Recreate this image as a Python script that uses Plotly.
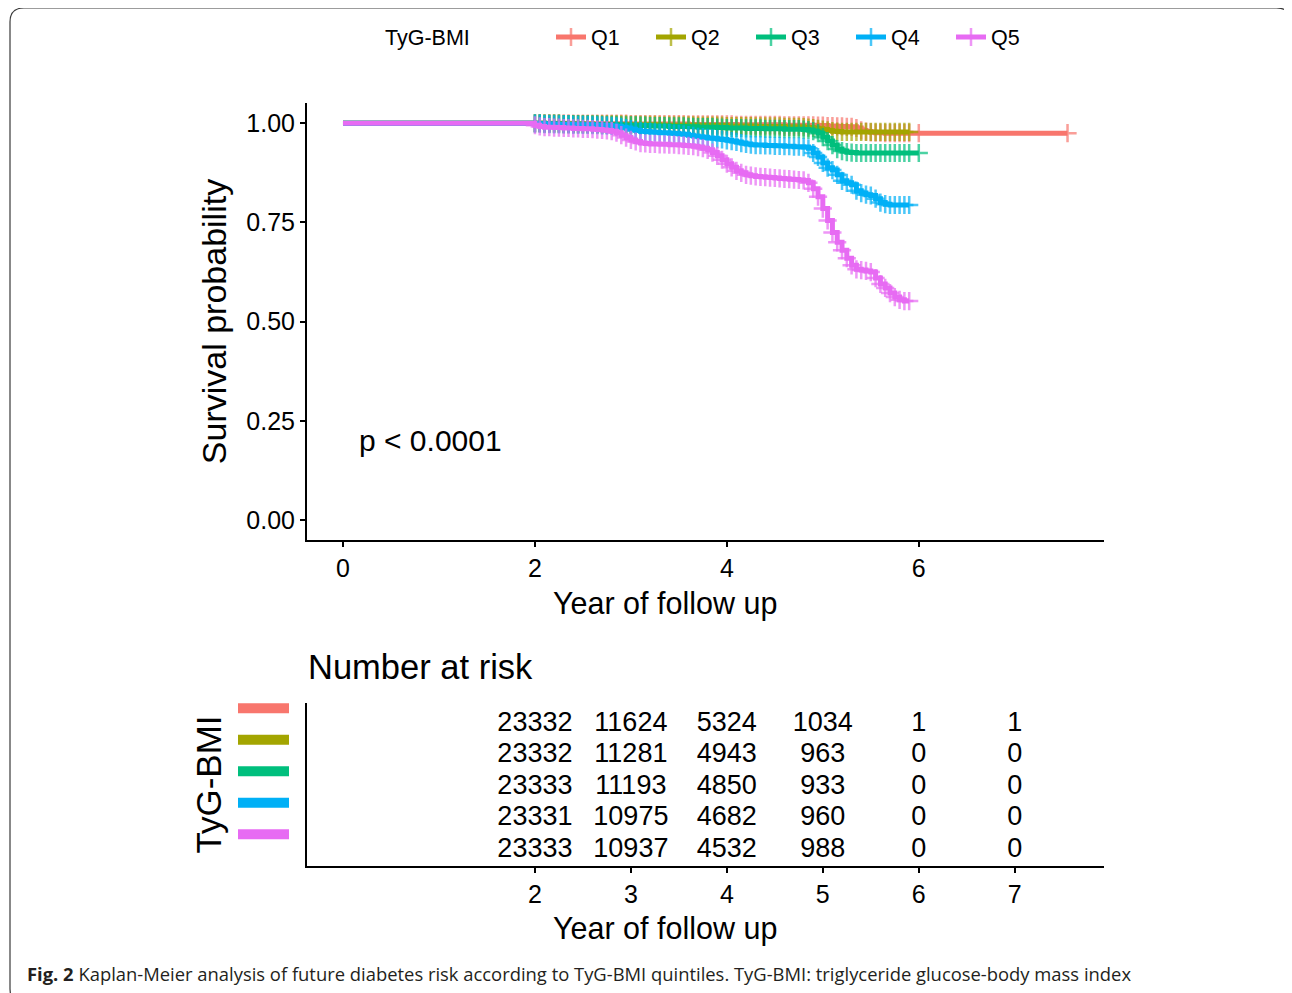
import plotly.graph_objects as go

W, H = 1292, 993

groups = ["Q1", "Q2", "Q3", "Q4", "Q5"]
colors = ["#F8766D", "#A3A500", "#00BF7D", "#00B0F6", "#E76BF3"]

# follow-up grid (years) shared by all curves
years = [0.0,
         2.00, 2.05, 2.10, 2.15, 2.20, 2.25, 2.30, 2.35, 2.40, 2.45,
         2.50, 2.55, 2.60, 2.65, 2.70, 2.75, 2.80, 2.85, 2.90, 2.95,
         3.00, 3.05, 3.10, 3.15, 3.20, 3.25, 3.30, 3.35, 3.40, 3.45,
         3.50, 3.55, 3.60, 3.65, 3.70, 3.75, 3.80, 3.85, 3.90, 3.95,
         4.00, 4.05, 4.10, 4.15, 4.20, 4.25, 4.30, 4.35, 4.40, 4.45,
         4.50, 4.55, 4.60, 4.65, 4.70, 4.75, 4.80, 4.85, 4.90, 4.95,
         5.00, 5.05, 5.10, 5.15, 5.20, 5.25, 5.30, 5.35, 5.40, 5.45,
         5.50, 5.55, 5.60, 5.65, 5.70, 5.75, 5.80, 5.85, 5.90]

surv_q1 = [1.000,
           1.000, 1.000, 1.000, 1.000, 1.000, 1.000, 1.000, 1.000, 0.999, 0.999,
           0.999, 0.999, 0.999, 0.999, 0.999, 0.999, 0.999, 0.999, 0.999, 0.999,
           0.998, 0.998, 0.998, 0.998, 0.998, 0.998, 0.998, 0.998, 0.998, 0.998,
           0.998, 0.998, 0.997, 0.997, 0.997, 0.997, 0.997, 0.997, 0.997, 0.997,
           0.997, 0.997, 0.996, 0.996, 0.996, 0.996, 0.996, 0.996, 0.996, 0.996,
           0.996, 0.996, 0.995, 0.995, 0.995, 0.995, 0.995, 0.995, 0.995, 0.994,
           0.994, 0.993, 0.993, 0.992, 0.992, 0.991, 0.991, 0.988, 0.982, 0.979,
           0.977, 0.976, 0.976, 0.975, 0.975, 0.975, 0.975, 0.975, 0.975]
surv_q2 = [1.000,
           1.000, 1.000, 0.999, 0.999, 0.999, 0.999, 0.998, 0.998, 0.998, 0.998,
           0.998, 0.998, 0.997, 0.997, 0.997, 0.997, 0.997, 0.997, 0.997, 0.997,
           0.996, 0.996, 0.996, 0.996, 0.996, 0.996, 0.995, 0.995, 0.995, 0.995,
           0.995, 0.995, 0.995, 0.995, 0.994, 0.994, 0.994, 0.994, 0.994, 0.994,
           0.993, 0.993, 0.993, 0.993, 0.993, 0.993, 0.992, 0.992, 0.992, 0.992,
           0.992, 0.992, 0.991, 0.991, 0.991, 0.991, 0.990, 0.989, 0.988, 0.986,
           0.984, 0.982, 0.980, 0.979, 0.978, 0.978, 0.978, 0.978, 0.978, 0.978,
           0.978, 0.978, 0.978, 0.978, 0.978, 0.978, 0.978, 0.978, 0.978]
surv_q3 = [1.000,
           1.000, 1.000, 0.999, 0.999, 0.999, 0.999, 0.998, 0.998, 0.998, 0.998,
           0.997, 0.997, 0.997, 0.997, 0.996, 0.996, 0.996, 0.996, 0.995, 0.995,
           0.995, 0.995, 0.994, 0.994, 0.993, 0.993, 0.993, 0.993, 0.992, 0.992,
           0.992, 0.992, 0.991, 0.991, 0.990, 0.990, 0.990, 0.990, 0.989, 0.989,
           0.988, 0.988, 0.988, 0.988, 0.987, 0.987, 0.987, 0.987, 0.986, 0.986,
           0.986, 0.986, 0.985, 0.985, 0.985, 0.985, 0.984, 0.983, 0.980, 0.975,
           0.965, 0.955, 0.945, 0.935, 0.930, 0.927, 0.926, 0.925, 0.925, 0.925,
           0.925, 0.925, 0.925, 0.925, 0.925, 0.925, 0.925, 0.925, 0.925]
surv_q4 = [1.000,
           0.999, 0.999, 0.998, 0.998, 0.997, 0.997, 0.997, 0.997, 0.996, 0.996,
           0.996, 0.996, 0.995, 0.995, 0.994, 0.994, 0.993, 0.992, 0.990, 0.988,
           0.985, 0.982, 0.980, 0.979, 0.978, 0.977, 0.976, 0.976, 0.975, 0.974,
           0.973, 0.972, 0.970, 0.968, 0.966, 0.965, 0.963, 0.962, 0.960, 0.959,
           0.957, 0.955, 0.953, 0.950, 0.948, 0.946, 0.945, 0.945, 0.944, 0.944,
           0.943, 0.943, 0.942, 0.942, 0.941, 0.941, 0.940, 0.937, 0.925, 0.915,
           0.900, 0.888, 0.882, 0.870, 0.855, 0.850, 0.845, 0.830, 0.824, 0.820,
           0.818, 0.810, 0.800, 0.796, 0.794, 0.794, 0.794, 0.794, 0.794]
surv_q5 = [1.000,
           0.995, 0.992, 0.990, 0.990, 0.989, 0.989, 0.988, 0.988, 0.987, 0.987,
           0.986, 0.986, 0.985, 0.984, 0.983, 0.982, 0.980, 0.976, 0.970, 0.964,
           0.958, 0.954, 0.950, 0.949, 0.948, 0.948, 0.947, 0.947, 0.946, 0.946,
           0.945, 0.944, 0.943, 0.942, 0.940, 0.937, 0.933, 0.926, 0.918, 0.908,
           0.898, 0.889, 0.880, 0.875, 0.870, 0.868, 0.866, 0.865, 0.864, 0.863,
           0.862, 0.861, 0.860, 0.859, 0.858, 0.857, 0.856, 0.850, 0.835, 0.815,
           0.785, 0.755, 0.725, 0.700, 0.680, 0.660, 0.642, 0.632, 0.630, 0.628,
           0.625, 0.610, 0.595, 0.585, 0.572, 0.562, 0.555, 0.552, 0.552]

# longer follow-up tails
tail_years = {"Q1": [6.0, 7.55], "Q3": [6.0]}
tail_surv = {"Q1": [0.975, 0.975], "Q3": [0.925]}

surv = {"Q1": surv_q1, "Q2": surv_q2, "Q3": surv_q3, "Q4": surv_q4, "Q5": surv_q5}

# number at risk table
risk_years = [2, 3, 4, 5, 6, 7]
risk_q1 = [23332, 11624, 5324, 1034, 1, 1]
risk_q2 = [23332, 11281, 4943, 963, 0, 0]
risk_q3 = [23333, 11193, 4850, 933, 0, 0]
risk_q4 = [23331, 10975, 4682, 960, 0, 0]
risk_q5 = [23333, 10937, 4532, 988, 0, 0]
risk = [risk_q1, risk_q2, risk_q3, risk_q4, risk_q5]

xticks_main = [0, 2, 4, 6]
yticks_main = [0, 0.25, 0.5, 0.75, 1.0]
ytick_text = ["0.00", "0.25", "0.50", "0.75", "1.00"]

FONT = "Liberation Sans, Arial, sans-serif"

# page offset of the plot div (default body margin)
OFF = 8
px = lambda v: (v - OFF) / W
py = lambda v: 1 - (v - OFF) / H

fig = go.Figure()

for g, c in zip(groups, colors):
    xs = years + tail_years.get(g, [])
    ys = surv[g] + tail_surv.get(g, [])
    n = min(len(xs), len(ys))
    xs, ys = xs[:n], ys[:n]
    sizes = [0] + [13] * (n - 1)
    fig.add_trace(go.Scatter(
        x=xs, y=ys, name=g, mode="lines+markers",
        line=dict(color=c, width=5, shape="hv"),
        marker=dict(symbol="cross-thin", size=sizes, color=c,
                    line=dict(color=c, width=2.5)),
        xaxis="x", yaxis="y", showlegend=True,
    ))

for i, (g, c) in enumerate(zip(groups, colors)):
    fig.add_trace(go.Scatter(
        x=risk_years, y=[i] * len(risk_years),
        text=[str(v) for v in risk[i]], mode="text",
        textfont=dict(family=FONT, size=27, color="black"),
        textposition="middle center",
        xaxis="x2", yaxis="y2", showlegend=False, cliponaxis=False,
        hoverinfo="skip",
    ))

x_range = [-0.375, 7.93]
axis_common = dict(showline=True, linecolor="black", linewidth=2, showgrid=False,
                   zeroline=False, ticks="outside", ticklen=5, tickwidth=2,
                   tickcolor="black", automargin=False,
                   tickfont=dict(family=FONT, size=25, color="black"))

fig.update_layout(
    width=W, height=H,
    margin=dict(l=0, r=0, t=0, b=0),
    paper_bgcolor="white", plot_bgcolor="white",
    font=dict(family=FONT, color="black"),
    xaxis=dict(domain=[px(307), px(1104)], range=x_range, tickvals=xticks_main,
               anchor="y", **axis_common),
    yaxis=dict(domain=[py(540), py(103)], range=[-0.05, 1.051], tickvals=yticks_main,
               ticktext=ytick_text, anchor="x", ticklabelstandoff=0,
               title=dict(text="Survival probability", font=dict(family=FONT, size=34), standoff=9),
               **axis_common),
    xaxis2=dict(domain=[px(307), px(1104)], range=x_range, tickvals=risk_years,
                anchor="y2", **axis_common),
    yaxis2=dict(domain=[py(866), py(703)], range=[4.508, -0.667], anchor="x2",
                showline=True, linecolor="black", linewidth=2, showgrid=False,
                zeroline=False, showticklabels=False, ticks="", automargin=False,
                title=dict(text="TyG-BMI", font=dict(family=FONT, size=35), standoff=73)),
    legend=dict(orientation="h", x=px(551), y=py(37), xanchor="left", yanchor="middle",
                font=dict(family=FONT, size=21.5, color="black"),
                itemwidth=30, entrywidth=55, entrywidthmode="pixels",
                bgcolor="rgba(0,0,0,0)", traceorder="normal"),
)

# x-axis titles (placed as in the original, left of the panel centre)
for yy in (603, 928):
    fig.add_annotation(x=px(665), y=py(yy), xref="paper", yref="paper",
                       text="Year of follow up", showarrow=False,
                       xanchor="center", yanchor="middle",
                       font=dict(family=FONT, size=30.5, color="black"))

# legend title
fig.add_annotation(x=px(383), y=py(38), xref="paper", yref="paper", text="TyG-BMI",
                   showarrow=False, xanchor="left", yanchor="middle",
                   font=dict(family=FONT, size=21.5, color="black"))

# p-value
fig.add_annotation(x=0.15, y=0.2, xref="x", yref="y", text="p < 0.0001",
                   showarrow=False, xanchor="left", yanchor="middle",
                   font=dict(family=FONT, size=30, color="black"))

# Number at risk title
fig.add_annotation(x=px(306), y=py(667), xref="paper", yref="paper", text="Number at risk",
                   showarrow=False, xanchor="left", yanchor="middle",
                   font=dict(family=FONT, size=34.5, color="black"))

# coloured strata keys beside the risk table
for i, c in enumerate(colors):
    fig.add_shape(type="rect", xref="paper", yref="y2",
                  x0=px(238), x1=px(289), y0=i - 0.50 - 0.16, y1=i - 0.50 + 0.16,
                  fillcolor=c, line=dict(width=0), layer="above")

# caption
fig.add_annotation(x=px(25), y=py(973), xref="paper", yref="paper",
                   text="<b>Fig. 2</b> Kaplan-Meier analysis of future diabetes risk according to TyG-BMI quintiles. TyG-BMI: triglyceride glucose-body mass index",
                   showarrow=False, xanchor="left", yanchor="middle",
                   font=dict(family="Open Sans, sans-serif", size=18.4, color="#231f20"))

# rounded frame
x0, x1 = px(10), px(1290.5)
yt, yb = py(8), py(1003)
rx, ry = 14 / W, 14 / H
path = (f"M {x0+rx},{yt} L {x1-rx},{yt} Q {x1},{yt} {x1},{yt-ry} "
        f"L {x1},{yb+ry} Q {x1},{yb} {x1-rx},{yb} L {x0+rx},{yb} "
        f"Q {x0},{yb} {x0},{yb+ry} L {x0},{yt-ry} Q {x0},{yt} {x0+rx},{yt} Z")
fig.add_shape(type="path", xref="paper", yref="paper", path=path,
              line=dict(color="#3a3a3a", width=1.2), fillcolor="rgba(0,0,0,0)")

fig.write_html("out.html")
